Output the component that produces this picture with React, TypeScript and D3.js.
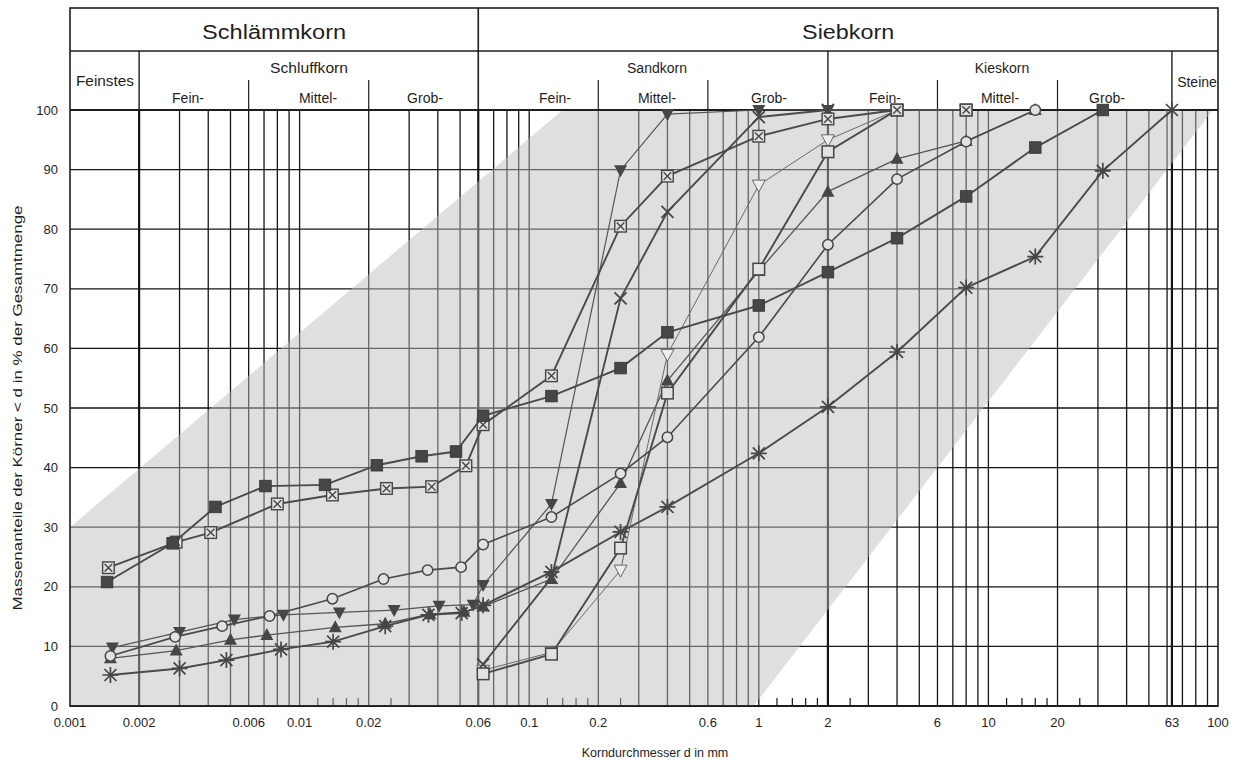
import React from "react";
import * as d3 from "d3";

// grain sizes (mm) and passing percentages
const sqFilledD = [0.00145, 0.0028, 0.0043, 0.0071, 0.0129, 0.0217, 0.034, 0.048, 0.063, 0.125, 0.25, 0.4, 1, 2, 4, 8, 16, 31.5];
const sqFilledP = [20.8, 27.3, 33.4, 36.9, 37.1, 40.4, 41.9, 42.7, 48.7, 52.0, 56.7, 62.7, 67.2, 72.8, 78.5, 85.5, 93.7, 100];

const sqCrossD = [0.00147, 0.0029, 0.0041, 0.008, 0.0139, 0.0239, 0.0376, 0.053, 0.063, 0.125, 0.25, 0.4, 1, 2, 4, 8];
const sqCrossP = [23.2, 27.5, 29.1, 33.9, 35.4, 36.5, 36.8, 40.3, 47.2, 55.4, 80.5, 88.9, 95.6, 98.5, 100, 100];

const circleD = [0.0015, 0.00287, 0.0046, 0.0074, 0.0139, 0.0232, 0.0361, 0.0505, 0.063, 0.125, 0.25, 0.4, 1, 2, 4, 8, 16];
const circleP = [8.4, 11.6, 13.4, 15.1, 18.0, 21.3, 22.8, 23.3, 27.1, 31.7, 39.0, 45.1, 61.9, 77.4, 88.4, 94.7, 100];

const triUpD = [0.0015, 0.0029, 0.005, 0.0072, 0.0143, 0.0236, 0.037, 0.052, 0.063, 0.125, 0.25, 0.4, 1, 2, 4, 8, 16];
const triUpP = [8.0, 9.3, 11.1, 11.9, 13.2, 13.8, 15.4, 15.8, 16.7, 21.3, 37.4, 54.6, 73.0, 86.3, 91.8, 94.8, 100];

const triDownD = [0.00153, 0.003, 0.0052, 0.0085, 0.0149, 0.0258, 0.0405, 0.057, 0.063, 0.125, 0.25, 0.4, 1, 2];
const triDownP = [9.8, 12.4, 14.5, 15.3, 15.7, 16.1, 16.8, 17.0, 20.3, 33.9, 89.9, 99.3, 100, 100];

const crossD = [0.063, 0.125, 0.25, 0.4, 1, 2, 4];
const crossP = [7.0, 21.5, 68.4, 82.9, 98.8, 100, 100];

const sqOpenD = [0.063, 0.125, 0.25, 0.4, 1, 2, 4, 8];
const sqOpenP = [5.4, 8.7, 26.5, 52.5, 73.3, 93.0, 100, 100];

const triOpenD = [0.063, 0.125, 0.25, 0.4, 1, 2, 4, 8];
const triOpenP = [6.0, 9.0, 22.8, 59.0, 87.4, 95.0, 100, 100];

const starD = [0.0015, 0.003, 0.0048, 0.0083, 0.014, 0.0236, 0.0364, 0.0508, 0.063, 0.125, 0.25, 0.4, 1, 2, 4, 8, 16, 31.5, 63];
const starP = [5.2, 6.3, 7.7, 9.5, 10.8, 13.4, 15.3, 15.6, 16.9, 22.5, 29.2, 33.4, 42.4, 50.2, 59.4, 70.2, 75.4, 89.8, 100];

const xTickLabels = [0.001, 0.002, 0.006, 0.01, 0.02, 0.06, 0.1, 0.2, 0.6, 1, 2, 6, 10, 20, 63, 100];
const yTicks = [0, 10, 20, 30, 40, 50, 60, 70, 80, 90, 100];
const majorBounds = [0.002, 0.06, 2, 63];
const subBounds = [0.006, 0.02, 0.2, 0.6, 6, 20];
const bandPoly = [[0.001, 0], [0.001, 30], [0.14, 100], [95, 100], [0.95, 0]];

const series = [
  { d: triOpenD, p: triOpenP, mark: "triOpen", w: 1, c: "#6a6a6a" },
  { d: triDownD, p: triDownP, mark: "triDown", w: 1.2, c: "#555" },
  { d: triUpD, p: triUpP, mark: "triUp", w: 1.3, c: "#555" },
  { d: circleD, p: circleP, mark: "circle", w: 1.6, c: "#4a4a4a" },
  { d: crossD, p: crossP, mark: "cross", w: 1.9, c: "#4a4a4a" },
  { d: sqOpenD, p: sqOpenP, mark: "sqOpen", w: 1.9, c: "#4a4a4a" },
  { d: starD, p: starP, mark: "star", w: 1.9, c: "#4a4a4a" },
  { d: sqCrossD, p: sqCrossP, mark: "sqCross", w: 1.9, c: "#4a4a4a" },
  { d: sqFilledD, p: sqFilledP, mark: "sqFilled", w: 1.9, c: "#4a4a4a" },
];

function Marker({ type, cx, cy }: { type: string; cx: number; cy: number }) {
  const s = 5.8;
  const col = "#464646";
  switch (type) {
    case "sqFilled":
      return <rect x={cx - s} y={cy - s} width={2 * s} height={2 * s} fill={col} stroke="#333" strokeWidth={0.8} />;
    case "sqOpen":
      return <rect x={cx - s} y={cy - s} width={2 * s} height={2 * s} fill="#e2e2e2" stroke={col} strokeWidth={1.5} />;
    case "sqCross":
      return (
        <g stroke={col} strokeWidth={1.4}>
          <rect x={cx - s} y={cy - s} width={2 * s} height={2 * s} fill="#e2e2e2" />
          <path d={`M${cx - s + 2},${cy - s + 2}L${cx + s - 2},${cy + s - 2}M${cx + s - 2},${cy - s + 2}L${cx - s + 2},${cy + s - 2}`} />
        </g>
      );
    case "circle":
      return <circle cx={cx} cy={cy} r={5.2} fill="#e2e2e2" stroke={col} strokeWidth={1.5} />;
    case "triUp":
      return <path d={`M${cx},${cy - 7}L${cx + 6.5},${cy + 5}L${cx - 6.5},${cy + 5}Z`} fill={col} />;
    case "triDown":
      return <path d={`M${cx},${cy + 7}L${cx + 6.5},${cy - 5}L${cx - 6.5},${cy - 5}Z`} fill={col} />;
    case "triOpen":
      return <path d={`M${cx},${cy + 7}L${cx + 6.5},${cy - 5}L${cx - 6.5},${cy - 5}Z`} fill="#eee" stroke="#666" strokeWidth={1} />;
    case "cross":
      return <path d={`M${cx - 6},${cy - 6}L${cx + 6},${cy + 6}M${cx + 6},${cy - 6}L${cx - 6},${cy + 6}`} stroke={col} strokeWidth={1.8} />;
    case "star":
      return (
        <path
          d={`M${cx - 8},${cy}L${cx + 8},${cy}M${cx},${cy - 8}L${cx},${cy + 8}M${cx - 6},${cy - 6}L${cx + 6},${cy + 6}M${cx + 6},${cy - 6}L${cx - 6},${cy + 6}`}
          stroke={col}
          strokeWidth={1.7}
        />
      );
    default:
      return null;
  }
}

export default function App() {
  const left = 70, right = 1218, top = 110, bottom = 706;
  const frameTop = 8, headRow = 51, subRow = 80;
  const x = d3.scaleLog().domain([0.001, 100]).range([left, right]);
  const y = d3.scaleLinear().domain([0, 100]).range([bottom, top]);

  // vertical grid: 2..9 in each decade, small ticks at 1.2..1.8 and 2.5
  const gridLines: number[] = [];
  const smallTicks: number[] = [];
  [0.001, 0.01, 0.1, 1, 10].forEach((dec) => {
    for (let m = 2; m <= 9; m++) gridLines.push(m * dec);
    if (dec >= 0.01) [1.2, 1.4, 1.6, 1.8, 2.5].forEach((m) => smallTicks.push(m * dec));
  });
  gridLines.push(0.01, 0.1, 1, 10, 63);

  const line = d3.line<[number, number]>().x((v) => x(v[0])).y((v) => y(v[1]));
  const bandPath = line(bandPoly as [number, number][]) + "Z";

  const font = "'Liberation Sans', Arial, sans-serif";
  const ink = "#1e1e1e";

  const subLabels = [
    { t: "Fein-", x: 188 }, { t: "Mittel-", x: 318 }, { t: "Grob-", x: 425 },
    { t: "Fein-", x: 555 }, { t: "Mittel-", x: 657 }, { t: "Grob-", x: 769 },
    { t: "Fein-", x: 885 }, { t: "Mittel-", x: 1000 }, { t: "Grob-", x: 1107 },
  ];

  return (
    <svg width={1240} height={760} style={{ position: "absolute", left: 0, top: 0, background: "#fff" }} fontFamily={font}>
      {/* grid */}
      <g stroke="#151515">
        {yTicks.map((v) => (
          <line key={"h" + v} x1={left} x2={right} y1={y(v)} y2={y(v)} strokeWidth={v === 0 ? 2.2 : 1.3} />
        ))}
        {gridLines.map((v, i) => (
          <line key={"v" + i} x1={x(v)} x2={x(v)} y1={top} y2={bottom}
            strokeWidth={majorBounds.includes(v) ? 2.2 : 1.3} />
        ))}
        {smallTicks.map((v, i) => (
          <line key={"t" + i} x1={x(v)} x2={x(v)} y1={bottom - 8} y2={bottom} strokeWidth={1.2} />
        ))}
      </g>

      {/* gray band */}
      <path d={bandPath} fill="#bcbcbc" fillOpacity={0.48} stroke="none" />

      {/* header and frame */}
      <g stroke={ink} fill="none">
        <rect x={left} y={frameTop} width={right - left} height={bottom - frameTop} strokeWidth={1.6} />
        <line x1={left} x2={right} y1={headRow} y2={headRow} strokeWidth={1.4} />
        <line x1={left} x2={right} y1={top} y2={top} strokeWidth={2} />
        <line x1={x(0.06)} x2={x(0.06)} y1={frameTop} y2={top} strokeWidth={1.6} />
        {[0.002, 2, 63].map((v) => (
          <line key={"m" + v} x1={x(v)} x2={x(v)} y1={headRow} y2={top} strokeWidth={1.4} />
        ))}
        {subBounds.map((v) => (
          <line key={"s" + v} x1={x(v)} x2={x(v)} y1={subRow} y2={top} strokeWidth={1.2} />
        ))}
      </g>
      <g fill={ink} textAnchor="middle">
        <text x={(left + x(0.06)) / 2} y={39} fontSize={20} textLength={144} lengthAdjust="spacingAndGlyphs">Schlämmkorn</text>
        <text x={(x(0.06) + right) / 2} y={39} fontSize={20} textLength={92} lengthAdjust="spacingAndGlyphs">Siebkorn</text>
        <text x={105} y={86} fontSize={14} textLength={58} lengthAdjust="spacingAndGlyphs">Feinstes</text>
        <text x={309} y={73} fontSize={14} textLength={78} lengthAdjust="spacingAndGlyphs">Schluffkorn</text>
        <text x={657} y={73} fontSize={14}>Sandkorn</text>
        <text x={1002} y={73} fontSize={14}>Kieskorn</text>
        <text x={1197} y={87} fontSize={14}>Steine</text>
        {subLabels.map((s, i) => (
          <text key={"sl" + i} x={s.x} y={103} fontSize={14}>{s.t}</text>
        ))}
      </g>

      {/* series */}
      {series.map((s, i) => {
        const pts = s.d.map((d, j) => [d, s.p[j]] as [number, number]);
        return (
          <g key={"s" + i}>
            <path d={line(pts) || ""} fill="none" stroke={s.c} strokeWidth={s.w} />
            {pts.map((v, j) => (
              <Marker key={j} type={s.mark} cx={x(v[0])} cy={y(v[1])} />
            ))}
          </g>
        );
      })}

      {/* axes labels */}
      <g fill={ink} fontSize={13}>
        {yTicks.map((v) => (
          <text key={"yl" + v} x={58} y={y(v) + 4.5} textAnchor="end">{v}</text>
        ))}
        {xTickLabels.map((v) => (
          <text key={"xl" + v} x={x(v)} y={727} textAnchor="middle">{String(v)}</text>
        ))}
        <text x={655} y={757} textAnchor="middle" fontSize={12.5}>Korndurchmesser d in mm</text>
        <text transform={`translate(22,${(top + bottom) / 2}) rotate(-90)`} textAnchor="middle" fontSize={13}
          textLength={405} lengthAdjust="spacingAndGlyphs">
          Massenanteile der Körner &lt; d in % der Gesamtmenge
        </text>
      </g>
    </svg>
  );
}
